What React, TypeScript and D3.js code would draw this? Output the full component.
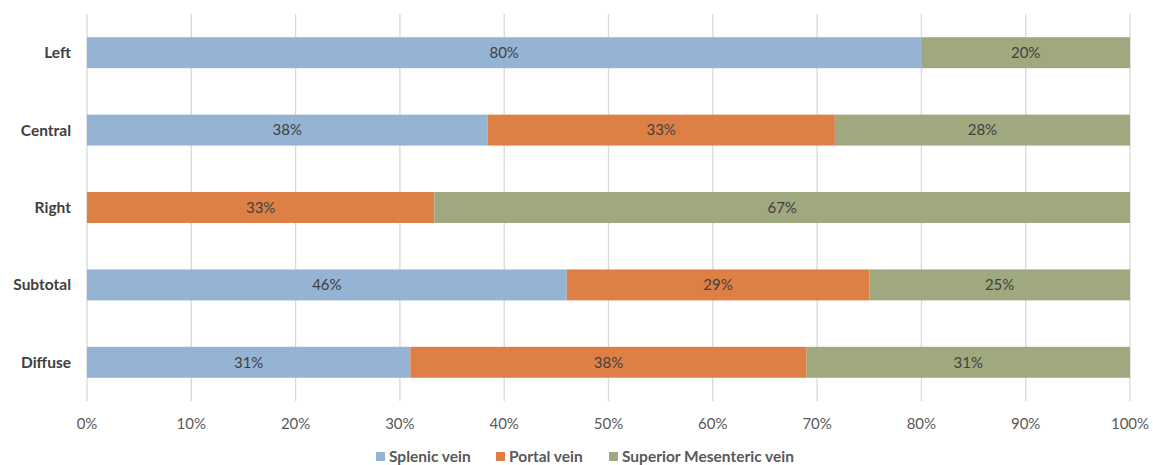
import React, { useEffect, useRef } from 'react';
import * as d3 from 'd3';

const categories = ['Left', 'Central', 'Right', 'Subtotal', 'Diffuse'];
const seriesNames = ['Splenic vein', 'Portal vein', 'Superior Mesenteric vein'];
const splenic = [80, 38.4, 0, 46, 31];
const portal = [0, 33.3, 33.3, 29, 38];
const smv = [20, 28.3, 66.7, 25, 31];
const colors = ['#95b3d3', '#de8045', '#a0a880'];
const ticks = [0, 10, 20, 30, 40, 50, 60, 70, 80, 90, 100];

const W = 1153;
const H = 465;
const FONT = 'Lato, "Open Sans", sans-serif';

const App = () => {
  const svgRef = useRef(null);

  useEffect(() => {
    if (!svgRef.current) return;
    const svg = d3.select(svgRef.current);
    svg.selectAll('*').remove();

    const x = d3.scaleLinear().domain([0, 100]).range([87, 1130]);
    const y = d3.scaleBand().domain(categories).range([14, 401]).paddingInner(0.6).paddingOuter(0.3);

    // gridlines
    svg
      .append('g')
      .selectAll('line')
      .data(ticks)
      .enter()
      .append('line')
      .attr('x1', (d) => x(d))
      .attr('x2', (d) => x(d))
      .attr('y1', 14)
      .attr('y2', 401)
      .attr('stroke', '#d9d9d9')
      .attr('stroke-width', 1.3);

    const rows = categories.map((c, i) => ({
      cat: c,
      vals: [splenic[i], portal[i], smv[i]],
    }));

    const segs = [];
    rows.forEach((r) => {
      let acc = 0;
      r.vals.forEach((v, k) => {
        if (v > 0) segs.push({ cat: r.cat, k, x0: acc, x1: acc + v, v });
        acc += v;
      });
    });

    svg
      .append('g')
      .selectAll('rect')
      .data(segs)
      .enter()
      .append('rect')
      .attr('x', (d) => x(d.x0))
      .attr('width', (d) => x(d.x1) - x(d.x0))
      .attr('y', (d) => y(d.cat))
      .attr('height', y.bandwidth())
      .attr('fill', (d) => colors[d.k]);

    svg
      .append('g')
      .selectAll('text')
      .data(segs)
      .enter()
      .append('text')
      .attr('x', (d) => (x(d.x0) + x(d.x1)) / 2)
      .attr('y', (d) => y(d.cat) + y.bandwidth() / 2)
      .attr('dy', '0.35em')
      .attr('text-anchor', 'middle')
      .attr('font-family', FONT)
      .attr('font-size', 15)
      .attr('fill', '#404040')
      .text((d) => `${Math.round(d.v)}%`);

    // category labels
    svg
      .append('g')
      .selectAll('text')
      .data(categories)
      .enter()
      .append('text')
      .attr('x', 71)
      .attr('y', (d) => y(d) + y.bandwidth() / 2)
      .attr('dy', '0.35em')
      .attr('text-anchor', 'end')
      .attr('font-family', FONT)
      .attr('font-size', 15.5)
      .attr('font-weight', 'bold')
      .attr('fill', '#404040')
      .text((d) => d);

    // x tick labels
    svg
      .append('g')
      .selectAll('text')
      .data(ticks)
      .enter()
      .append('text')
      .attr('x', (d) => x(d))
      .attr('y', 424)
      .attr('dy', '0.35em')
      .attr('text-anchor', 'middle')
      .attr('font-family', FONT)
      .attr('font-size', 15)
      .attr('fill', '#595959')
      .text((d) => `${d}%`);

    // legend
    const legendX = [376, 496, 609];
    const lg = svg
      .append('g')
      .selectAll('g')
      .data(seriesNames)
      .enter()
      .append('g')
      .attr('transform', (d, i) => `translate(${legendX[i]},457)`);
    lg.append('rect')
      .attr('x', 0)
      .attr('y', -5)
      .attr('width', 9)
      .attr('height', 9)
      .attr('fill', (d, i) => colors[i]);
    lg.append('text')
      .attr('x', 13)
      .attr('y', 0)
      .attr('dy', '0.35em')
      .attr('font-family', FONT)
      .attr('font-size', 15.5)
      .attr('font-weight', 'bold')
      .attr('fill', '#595959')
      .text((d) => d);
  }, []);

  return (
    <svg
      ref={svgRef}
      width={W}
      height={H}
      style={{ position: 'absolute', left: 0, top: 0, background: '#fff' }}
    />
  );
};

export default App;
